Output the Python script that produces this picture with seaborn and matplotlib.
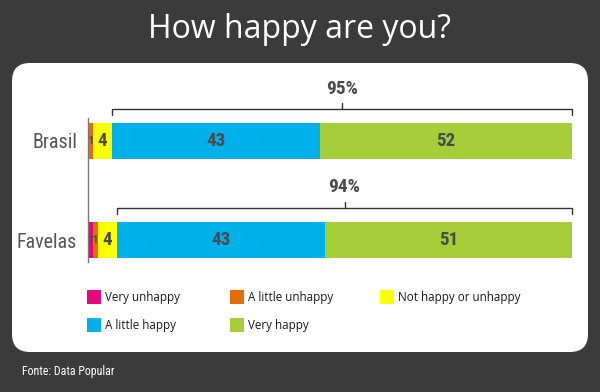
import matplotlib
matplotlib.use("Agg")
import matplotlib.pyplot as plt
from matplotlib import font_manager
from matplotlib.patches import FancyBboxPatch, Rectangle
import pandas as pd
import seaborn as sns

# Survey data (percent of respondents)
groups = ["Brasil", "Favelas"]
answers = ["Very unhappy", "A little unhappy", "Not happy or unhappy",
           "A little happy", "Very happy"]
brasil = [0, 1, 4, 43, 52]
favelas = [1, 1, 4, 43, 51]
colors = ["#e5077e", "#e46c0a", "#ffff00", "#00b0eb", "#a6ce39"]

BG = "#3b3b3b"
NUM_COLOR = "#4b4b4b"

# narrow face for numbers and labels (falls back to regular Roboto)
names = {f.name for f in font_manager.fontManager.ttflist}
NARROW = dict(family=["Roboto", "DejaVu Sans"])
for fam in ["Roboto Condensed", "Liberation Sans Narrow", "Archivo Narrow"]:
    if fam in names:
        NARROW = dict(family=[fam, "DejaVu Sans"])
        break

sns.set_theme(style="white")
plt.rcParams["font.family"] = ["Open Sans", "DejaVu Sans"]

df = pd.DataFrame([brasil, favelas], index=groups, columns=answers)
cum = df.cumsum(axis=1)

fig = plt.figure(figsize=(6, 3.92), dpi=100, facecolor=BG)
renderer = fig.canvas.get_renderer()


def fit_size(text, width_px, **kw):
    """Font size (pt) that makes `text` about width_px wide."""
    t = fig.text(0, 0, text, fontsize=10, **kw)
    w = t.get_window_extent(renderer).width
    t.remove()
    return 10 * width_px / w


# white rounded panel behind everything
panel = FancyBboxPatch((12 / 600, 1 - 352 / 392), 576 / 600, 289 / 392,
                       boxstyle="round,pad=0,rounding_size=0.03",
                       transform=fig.transFigure, facecolor="white",
                       edgecolor="none", mutation_aspect=600 / 392, zorder=-5)
fig.patches.append(panel)

fig.text(0.5, 1 - 30 / 392, "How happy are you?", color="white",
         fontsize=23, ha="center", va="center")
fig.text(22 / 600, 1 - 372 / 392, "Fonte: Data Popular", color="white",
         fontsize=fit_size("Fonte: Data Popular", 92, **NARROW),
         ha="left", va="center", **NARROW)

ax = fig.add_axes([88 / 600, 1 - 262 / 392, 484 / 600, 144 / 392])
ax.set_facecolor("none")

# stacked bars: draw cumulative totals from the longest down
for i in range(len(answers) - 1, -1, -1):
    part = pd.DataFrame({"group": groups, "value": cum[answers[i]].values})
    sns.barplot(data=part, x="value", y="group", color=colors[i],
                saturation=1, width=0.37, orient="h", ax=ax,
                edgecolor="none", linewidth=0)

ax.set_xlim(0, 100)
ax.set_ylim(1.222, -0.232)
ax.set_xlabel("")
ax.set_ylabel("")
ax.set_xticks([])
for s in ["top", "right", "bottom"]:
    ax.spines[s].set_visible(False)
ax.spines["left"].set_color("#777777")
ax.spines["left"].set_linewidth(1)
ax.tick_params(axis="y", length=0, pad=8)
label_size = fit_size("Favelas", 60, **NARROW)
for lbl in ax.get_yticklabels():
    lbl.set_fontproperties(font_manager.FontProperties(size=label_size, **NARROW))
    lbl.set_color("#555555")

num_size = fit_size("43", 19.5, weight="bold", **NARROW)
small_size = 7.5

# segment value labels
for row, g in enumerate(groups):
    start = 0
    for j, v in enumerate(df.loc[g]):
        if v > 0:
            ax.text(start + v / 2, row, str(v), ha="center", va="center",
                    fontsize=num_size if v > 2 else small_size,
                    color=NUM_COLOR, weight="bold", **NARROW)
        start += v

# brackets over the "happy" share
bracket = [(-0.323, -0.384, -0.52), (0.677, 0.616, 0.46)]
pct_size = fit_size("95%", 32, weight="bold", **NARROW)
for row, g in enumerate(groups):
    vals = df.loc[g]
    x0 = vals.iloc[:3].sum()
    x1 = vals.sum()
    happy = vals.iloc[3:].sum()
    yb, yt, ylab = bracket[row]
    kw = dict(color="#333333", lw=1, clip_on=False)
    ax.plot([x0, x0, x1, x1], [yb + 0.06, yb, yb, yb + 0.06], **kw)
    xm = (x0 + x1) / 2
    ax.plot([xm, xm], [yb, yt], **kw)
    ax.text(xm, ylab, f"{happy}%", ha="center", va="center",
            fontsize=pct_size, color=NUM_COLOR, weight="bold", **NARROW)

# legend
leg_pos = [(87, 297), (230, 297), (380, 297), (87, 325), (230, 325)]
for (px, py), name, c in zip(leg_pos, answers, colors):
    fig.patches.append(Rectangle((px / 600, 1 - (py + 7) / 392), 14 / 600,
                                 14 / 392, transform=fig.transFigure,
                                 facecolor=c, edgecolor="none"))
    fig.text((px + 18) / 600, 1 - py / 392, name, fontsize=8.4,
             color="#1a1a1a", ha="left", va="center")

fig.savefig("out.png", dpi=100, facecolor=BG)
